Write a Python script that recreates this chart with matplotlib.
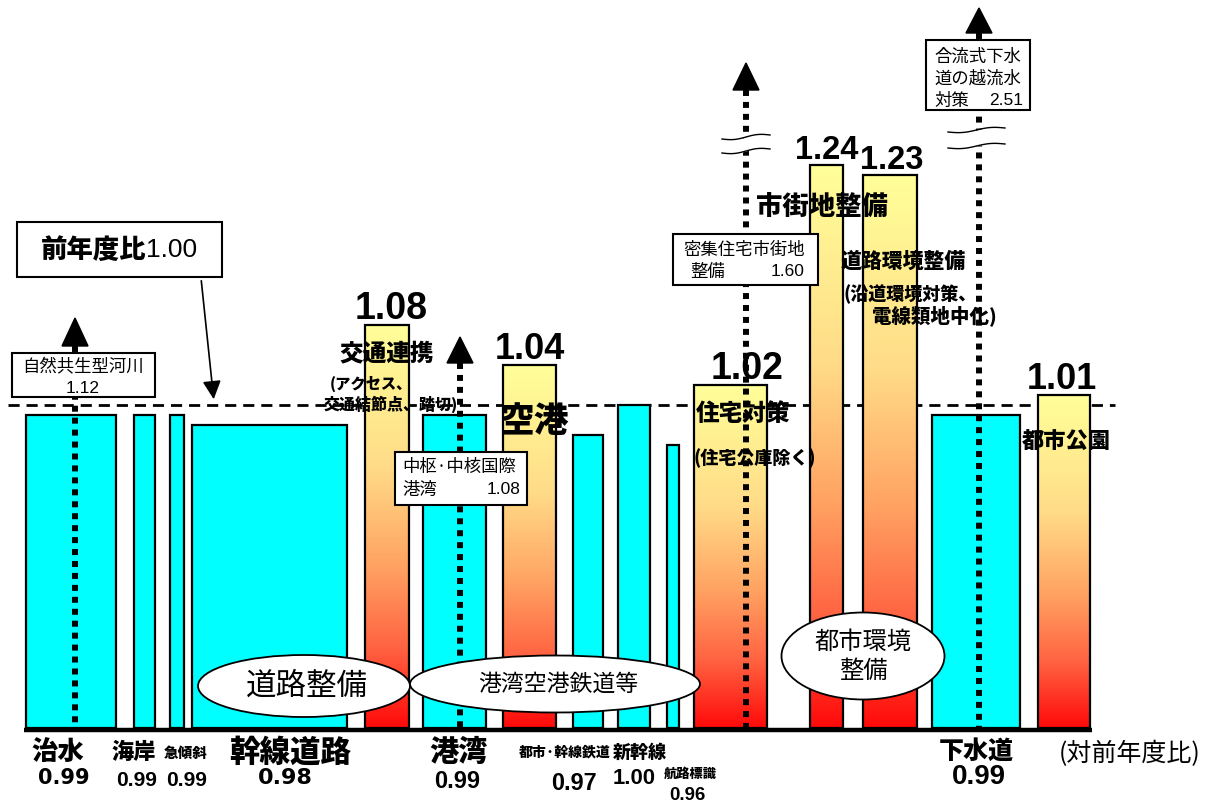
import matplotlib
matplotlib.use('Agg')
import matplotlib.pyplot as plt
import numpy as np
from matplotlib import font_manager
from matplotlib.patches import Rectangle, Ellipse, Polygon
from matplotlib.colors import LinearSegmentedColormap

# ---------------- data ----------------
categories = ['治水', '海岸', '急傾斜', '幹線道路', '交通連携', '港湾', '空港',
              '都市·幹線鉄道', '新幹線', '航路標識', '住宅対策', '市街地整備',
              '道路環境整備', '下水道', '都市公園']
ratios = [0.99, 0.99, 0.99, 0.98, 1.08, 0.99, 1.04, 0.97, 1.00, 0.96,
          1.02, 1.24, 1.23, 0.99, 1.01]
budget_widths = [90, 21, 14, 155, 44, 63, 53, 30, 32, 12, 73, 33, 54, 88, 52]

sub_items = ['自然共生型河川', '中枢·中核国際港湾', '密集住宅市街地整備', '合流式下水道の越流水対策']
sub_ratios = [1.12, 1.08, 1.60, 2.51]

groups = ['道路整備', '港湾空港鉄道等', '都市環境\n整備']
reference_ratio = 1.00

# ---------------- layout ----------------
gaps = [26, 18, 15, 8, 18, 14, 17, 17, 15, 17, 15, 43, 20, 15, 18]

W, H = 1207, 805
Y_TOP = 1.405
fig = plt.figure(figsize=(W / 100, H / 100), dpi=100)
ax = fig.add_axes([0, 0, 1, 1])


def py(p):
    return Y_TOP - p / 1000.0


BASE = py(728)
JP = ['Noto Sans CJK JP', 'DejaVu Sans']
NUM = ['Liberation Sans', 'DejaVu Sans']
WIDE = ['DejaVu Sans']
_names = {f.name for f in font_manager.fontManager.ttflist}
if 'Liberation Sans Narrow' in _names:
    NARROW, NF = ['Liberation Sans Narrow', 'DejaVu Sans'], 1.0
else:
    NARROW, NF = NUM, 0.84
FONTS = {'norm': (NUM, 1.0), 'wide': (WIDE, 1.0), 'narrow': (NARROW, NF)}

cmap = LinearSegmentedColormap.from_list(
    'yr', [(0.0, '#FFFF99'), (0.35, '#FFDC88'), (0.6, '#FFA262'),
           (0.8, '#FF6442'), (1.0, '#FF0A0A')])

lefts = []
x = 0
for g, w in zip(gaps, budget_widths):
    x += g
    lefts.append(x)
    x += w

grad = np.linspace(0, 1, 256).reshape(-1, 1)
for l, w, v in zip(lefts, budget_widths, ratios):
    if v > reference_ratio:
        ax.imshow(grad, cmap=cmap, extent=(l, l + w, BASE, v), aspect='auto',
                  origin='upper', zorder=2, interpolation='bilinear')
        ax.add_patch(Rectangle((l, BASE), w, v - BASE, fill=False,
                               ec='black', lw=1.6, zorder=3))
    else:
        ax.add_patch(Rectangle((l, BASE), w, v - BASE, fc='#00FFFF',
                               ec='black', lw=1.6, zorder=3))

# reference dashed line
ax.plot([8, 1115], [reference_ratio, reference_ratio], color='black', lw=2,
        dashes=(4, 2.5), zorder=1)
# baseline
ax.plot([24, 1092], [py(730), py(730)], color='black', lw=3.2,
        solid_capstyle='butt', zorder=4)


def T(x, p, s, size, bold=True, ha='center', va='center', fam=JP, **kw):
    w = 900 if bold is True else ('bold' if bold == 'b' else 'normal')
    ax.text(x, py(p), s, fontsize=size, fontweight=w,
            ha=ha, va=va, family=fam, zorder=9, **kw)


def TN(x, p, s, size, kind, ha='center', va='center'):
    fam, f = FONTS[kind]
    ax.text(x, py(p), s, fontsize=size * f, fontweight='bold', ha=ha, va=va,
            family=fam, zorder=9)


# value labels above increased bars: index -> (dx, font kind, size)
top_fmt = {4: (4, 'norm', 27), 6: (0, 'norm', 26), 10: (17, 'norm', 27),
           11: (0, 'narrow', 28), 12: (2, 'narrow', 28), 14: (-2, 'narrow', 31)}
for i, (l, w, v) in enumerate(zip(lefts, budget_widths, ratios)):
    if v > reference_ratio:
        dx, kind, sz = top_fmt[i]
        fam, f = FONTS[kind]
        ax.text(l + w / 2 + dx, v + 0.006, f'{v:.2f}', fontsize=sz * f,
                fontweight='bold', ha='center', va='baseline', family=fam,
                zorder=9)

# in-bar category labels
T(387, 353, categories[4], 17)
T(330, 384, '(アクセス、', 11, ha='left')
T(391, 404, '交通結節点、踏切)', 11.5)
T(534, 422, categories[6], 25)
T(743, 414, categories[10], 17)
T(755, 458, '(住宅公庫除く)', 13)
T(822, 207, categories[11], 19)
T(903, 262, categories[12], 15)
T(910, 294, '(沿道環境対策、', 13)
T(934, 316, '電線類地中化)', 14)
T(1066, 442, categories[14], 16)

# bottom labels: idx -> (x_name, y_name, size_name, x_val, y_val, size_val, kind)
bottom = {
    0: (58, 752, 19, 64, 778, 15, 'wide'),
    1: (134, 752, 16, 137, 781, 18, 'narrow'),
    2: (186, 753, 10.5, 187, 781, 18, 'narrow'),
    3: (290, 752, 22, 285, 778, 16, 'wide'),
    5: (458, 752, 21, 457, 782, 17, 'norm'),
    7: (565, 752, 10, 574, 783, 20, 'narrow'),
    8: (640, 752, 13, 634, 778, 19, 'narrow'),
    9: (690, 774, 9.5, 687, 795, 16, 'narrow'),
    13: (976, 751, 18, 979, 777, 20, 'norm'),
}
for i, (xn, yn, sn, xv, yv, sv, kind) in bottom.items():
    T(xn, yn, categories[i], sn)
    TN(xv, yv, f'{ratios[i]:.2f}', sv, kind)

T(1130, 754, '(対前年度比)', 18, bold=False)

# "前年度比1.00" box
ax.add_patch(Rectangle((17, py(277)), 205, 0.055, fc='white', ec='black',
                       lw=1.5, zorder=6))
T(146, 250, '前年度比', 19)
ax.texts[-1].set_ha('right')
T(146, 250, f'{reference_ratio:.2f}', 19, bold=False, ha='left', fam=NUM)
ax.annotate('', xy=(214, reference_ratio + 0.003), xytext=(201, py(278)),
            arrowprops=dict(arrowstyle='-|>', mutation_scale=28, lw=1.2,
                            color='black'), zorder=7)

# dotted arrows for sub items
arrows = [(75, 318, 346), (460, 337, 363), (746, 63, 90), (979, 8, 33)]
for xa, apex, base in arrows:
    ax.plot([xa, xa], [py(base), py(728)], color='black', lw=4.3,
            dashes=(1, 1), dash_capstyle='butt', zorder=5)
    ax.add_patch(Polygon([(xa - 13, py(base)), (xa + 13, py(base)),
                          (xa, py(apex))], closed=True, fc='black',
                         ec='black', zorder=5))


# break marks
def wave(x0, x1, p):
    t = np.linspace(0, 1, 60)
    xs = x0 + (x1 - x0) * t
    ys = p + 1.5 * np.sin(2 * np.pi * t) - 4 * (t - 0.5)
    return xs, ys


for x0, x1, p1, p2 in [(722, 770, 137, 151), (948, 1005, 130, 146)]:
    xs, y1 = wave(x0, x1, p1)
    _, y2 = wave(x0, x1, p2)
    ax.fill_between(xs, py(y1), py(y2), color='white', zorder=5.5, lw=0)
    ax.plot(xs, py(y1), color='black', lw=1, zorder=5.6)
    ax.plot(xs, py(y2), color='black', lw=1, zorder=5.6)


# sub-item boxes
def box(x0, x1, p0, p1):
    ax.add_patch(Rectangle((x0, py(p1)), x1 - x0, (p1 - p0) / 1000.0,
                           fc='white', ec='black', lw=1.5, zorder=6))


box(12, 155, 353, 397)
T(83, 367, sub_items[0], 12.5, bold=False)
T(83, 388, f'{sub_ratios[0]:.2f}', 12.5, bold=False, fam=NUM)

box(395, 527, 452, 505)
T(402, 467, '中枢·中核国際', 12.5, bold=False, ha='left')
T(402, 490, '港湾', 12.5, bold=False, ha='left')
T(520, 490, f'{sub_ratios[1]:.2f}', 12.5, bold=False, ha='right', fam=NUM)

box(673, 818, 234, 285)
T(683, 250, '密集住宅市街地', 12.5, bold=False, ha='left')
T(690, 272, '整備', 12.5, bold=False, ha='left')
T(805, 272, f'{sub_ratios[2]:.2f}', 12.5, bold=False, ha='right', fam=NUM)

box(926, 1030, 40, 110)
T(934, 57, '合流式下水', 12.5, bold=False, ha='left')
T(934, 79, '道の越流水', 12.5, bold=False, ha='left')
T(934, 101, '対策', 12.5, bold=False, ha='left')
T(1023, 101, f'{sub_ratios[3]:.2f}', 12.5, bold=False, ha='right', fam=NUM)

# group ellipses
for (cx, cp, ew, eh), label, fs in zip(
        [(304, 686, 212, 62), (555, 684, 290, 57), (863, 656, 163, 87)],
        groups, [22, 16.5, 17.5]):
    ax.add_patch(Ellipse((cx, py(cp)), ew, eh / 1000.0, fc='white', ec='black',
                         lw=1.3, zorder=7))
    ax.text(cx + (3 if '\n' not in label else 0), py(cp), label, fontsize=fs,
            ha='center', va='center', family=JP, zorder=9, linespacing=1.15)

ax.set_xlim(0, W)
ax.set_ylim(Y_TOP - H / 1000.0, Y_TOP)
ax.axis('off')
fig.savefig('out.png', dpi=100)
